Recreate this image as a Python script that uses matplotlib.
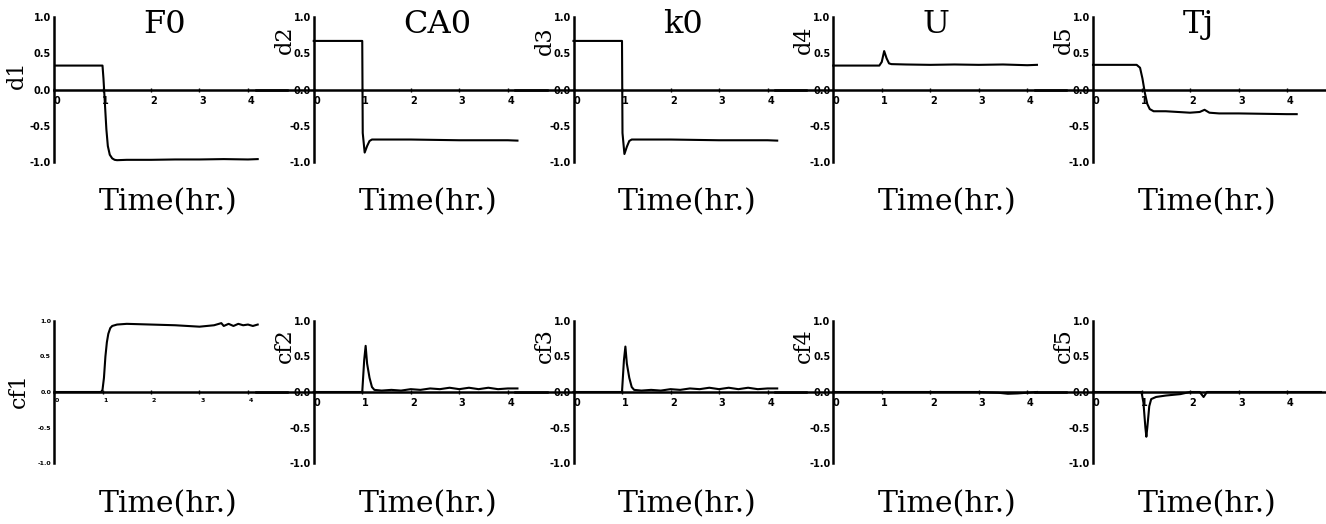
import matplotlib
matplotlib.use("Agg")
import matplotlib.pyplot as plt
from matplotlib.ticker import FormatStrFormatter
import matplotlib.transforms as mtransforms

# column titles and y labels
titles = ["F0", "CA0", "k0", "U", "Tj"]
top_labels = ["d1", "d2", "d3", "d4", "d5"]
bot_labels = ["cf1", "cf2", "cf3", "cf4", "cf5"]
xlabel = "Time(hr.)"

# top row: d1..d5
t_d1 = [0, 1.0, 1.02, 1.05, 1.08, 1.11, 1.15, 1.2, 1.25, 1.3, 1.5, 2.0, 2.5, 3.0, 3.5, 4.0, 4.2]
d1 = [0.33, 0.33, 0.15, -0.2, -0.55, -0.78, -0.9, -0.95, -0.97, -0.975, -0.97, -0.97, -0.965, -0.965, -0.96, -0.965, -0.96]

t_d2 = [0, 1.0, 1.01, 1.05, 1.1, 1.15, 1.2, 1.5, 2.0, 2.5, 3.0, 3.5, 4.0, 4.2]
d2 = [0.67, 0.67, -0.6, -0.87, -0.78, -0.71, -0.69, -0.69, -0.69, -0.695, -0.7, -0.7, -0.7, -0.705]

t_d3 = [0, 1.0, 1.01, 1.05, 1.1, 1.15, 1.2, 1.5, 2.0, 2.5, 3.0, 3.5, 4.0, 4.2]
d3 = [0.67, 0.67, -0.6, -0.89, -0.79, -0.71, -0.69, -0.69, -0.69, -0.695, -0.7, -0.7, -0.7, -0.705]

t_d4 = [0, 0.95, 1.0, 1.05, 1.1, 1.15, 1.2, 1.5, 2.0, 2.5, 3.0, 3.5, 4.0, 4.2]
d4 = [0.33, 0.33, 0.38, 0.53, 0.43, 0.36, 0.35, 0.345, 0.34, 0.345, 0.34, 0.345, 0.335, 0.34]

t_d5 = [0, 0.9, 0.97, 1.02, 1.07, 1.12, 1.17, 1.25, 1.5, 2.0, 2.2, 2.3, 2.4, 2.6, 3.0, 3.5, 4.0, 4.2]
d5 = [0.34, 0.34, 0.3, 0.15, -0.05, -0.2, -0.27, -0.3, -0.3, -0.32, -0.31, -0.28, -0.32, -0.33, -0.33, -0.335, -0.34, -0.34]

# bottom row: cf1..cf5
t_cf1 = [0, 0.97, 1.0, 1.03, 1.06, 1.09, 1.12, 1.16, 1.2, 1.3, 1.5, 2.0, 2.5, 3.0, 3.3, 3.45, 3.5, 3.6, 3.7, 3.8, 3.9, 4.0, 4.1, 4.2]
cf1 = [0, 0, 0.03, 0.2, 0.5, 0.7, 0.82, 0.9, 0.93, 0.95, 0.96, 0.95, 0.94, 0.92, 0.94, 0.97, 0.93, 0.96, 0.93, 0.96, 0.94, 0.95, 0.93, 0.95]

t_cf2 = [0, 1.0, 1.04, 1.07, 1.1, 1.15, 1.2, 1.25, 1.4, 1.6, 1.8, 2.0, 2.2, 2.4, 2.6, 2.8, 3.0, 3.2, 3.4, 3.6, 3.8, 4.0, 4.2]
cf2 = [0, 0, 0.45, 0.65, 0.4, 0.2, 0.07, 0.03, 0.02, 0.03, 0.02, 0.04, 0.03, 0.05, 0.04, 0.06, 0.04, 0.06, 0.04, 0.06, 0.04, 0.05, 0.05]

t_cf3 = [0, 1.0, 1.04, 1.07, 1.1, 1.15, 1.2, 1.25, 1.4, 1.6, 1.8, 2.0, 2.2, 2.4, 2.6, 2.8, 3.0, 3.2, 3.4, 3.6, 3.8, 4.0, 4.2]
cf3 = [0, 0, 0.45, 0.64, 0.4, 0.2, 0.07, 0.03, 0.02, 0.03, 0.02, 0.04, 0.03, 0.05, 0.04, 0.06, 0.04, 0.06, 0.04, 0.06, 0.04, 0.05, 0.05]

t_cf4 = [0, 1.0, 2.0, 3.0, 3.4, 3.6, 3.8, 4.0, 4.2]
cf4 = [0, 0, 0, 0, -0.01, -0.025, -0.02, -0.01, 0]

t_cf5 = [0, 1.0, 1.04, 1.08, 1.1, 1.12, 1.16, 1.2, 1.3, 1.5, 1.8, 2.0, 2.2, 2.28, 2.35, 2.5, 3.0, 4.0, 4.7]
cf5 = [0, 0, -0.15, -0.5, -0.63, -0.5, -0.2, -0.1, -0.07, -0.05, -0.03, 0, 0, -0.07, 0, 0, 0, 0, 0]

top = [(t_d1, d1), (t_d2, d2), (t_d3, d3), (t_d4, d4), (t_d5, d5)]
bot = [(t_cf1, cf1), (t_cf2, cf2), (t_cf3, cf3), (t_cf4, cf4), (t_cf5, cf5)]

plt.rcParams['axes.unicode_minus'] = False
W, H = 1326, 524
fig = plt.figure(figsize=(W / 100, H / 100), dpi=100)

px_per_x = 48.5
serif = "DejaVu Serif"


def make_ax(col, top_px, h_px):
    yaxis_px = 54 + 259.75 * col
    xmin = 0 if col == 0 else -1.2
    xmax = 4.8
    left = yaxis_px + xmin * px_per_x
    width = (xmax - xmin) * px_per_x
    ax = fig.add_axes([left / W, 1 - (top_px + h_px) / H, width / W, h_px / H])
    ax.set_xlim(xmin, xmax)
    ax.set_ylim(-1, 1)
    ax.patch.set_alpha(0)
    for s in ["top", "right"]:
        ax.spines[s].set_visible(False)
    ax.spines["left"].set_position(("data", 0))
    ax.spines["bottom"].set_position(("data", 0))
    ax.spines["left"].set_linewidth(1.8)
    ax.spines["bottom"].set_linewidth(1.8)
    ax.set_xticks([0, 1, 2, 3, 4])
    ax.set_yticks([-1, -0.5, 0, 0.5, 1])
    ax.yaxis.set_major_formatter(FormatStrFormatter('%.1f'))
    ax.tick_params(axis="x", length=3, direction="inout", width=1, pad=3)
    ax.tick_params(axis="y", length=0, pad=2)
    return ax


def style_ticks(ax, fs):
    shift = mtransforms.ScaledTranslation(3 / 100, 0, fig.dpi_scale_trans)
    for lab in ax.get_xticklabels():
        lab.set_fontsize(fs)
        lab.set_fontweight("bold")
        lab.set_transform(lab.get_transform() + shift)
    for lab in ax.get_yticklabels():
        lab.set_fontsize(fs)
        lab.set_fontweight("bold")


for c in range(5):
    # top row
    ax = make_ax(c, 17, 145)
    t, v = top[c]
    ax.plot(t, v, color="black", lw=1.5)
    style_ticks(ax, 7)
    ax.text(1.85, 0.9, titles[c], fontsize=23, family=serif, ha="left", va="center")
    ax.text(2.35, -1.55, xlabel, fontsize=21.5, family=serif, ha="center", va="center", clip_on=False)
    if c == 0:
        ax.text(-0.76, 0.2, top_labels[c], fontsize=16, family=serif, rotation=90, ha="center", va="center")
    else:
        ax.text(-0.6, 0.68, top_labels[c], fontsize=16, family=serif, rotation=90, ha="center", va="center")

    # bottom row
    ax = make_ax(c, 321, 142)
    t, v = bot[c]
    ax.plot(t, v, color="black", lw=1.5)
    style_ticks(ax, 4.5 if c == 0 else 7)
    ax.text(2.35, -1.58, xlabel, fontsize=21.5, family=serif, ha="center", va="center", clip_on=False)
    if c == 0:
        ax.text(-0.72, 0.02, bot_labels[c], fontsize=16, family=serif, rotation=90, ha="center", va="center")
    else:
        ax.text(-0.6, 0.66, bot_labels[c], fontsize=16, family=serif, rotation=90, ha="center", va="center")

fig.savefig("out.png", dpi=100)
